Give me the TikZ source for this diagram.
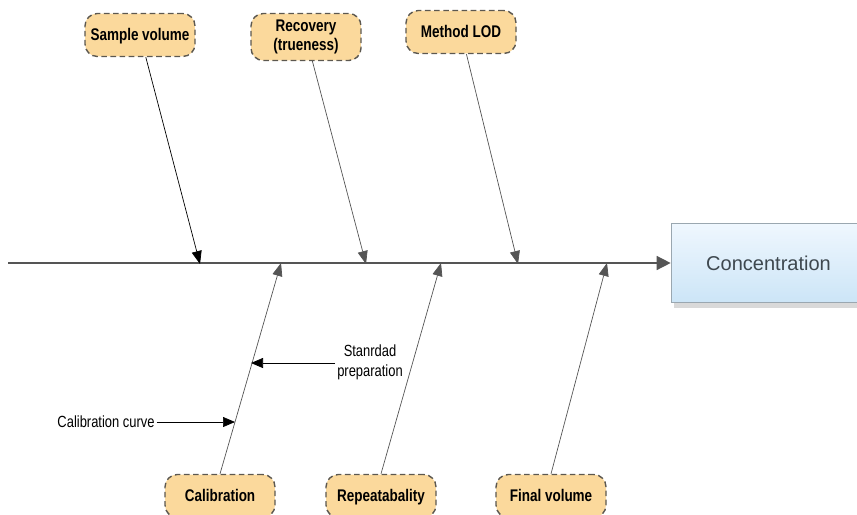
\documentclass[tikz,border=0pt]{standalone}
\usepackage{fontspec}
\setmainfont{Liberation Sans}
\newfontfamily\narrowfont[FakeStretch=0.8]{Liberation Sans}
\usetikzlibrary{arrows.meta,shadows}

\definecolor{causefill}{HTML}{FBD99C}
\definecolor{causeline}{HTML}{5C5850}
\definecolor{bonegray}{HTML}{555555}
\definecolor{effecttop}{HTML}{EFF7FE}
\definecolor{effectbottom}{HTML}{CCE5F7}
\definecolor{effectline}{HTML}{9AA7B0}
\definecolor{effecttext}{HTML}{3E484F}

\tikzset{
  cause/.style={draw=causeline, thick, dash pattern=on 3.2pt off 2pt,
    rounded corners=7pt, fill=causefill, align=center, inner sep=0pt,
    minimum width=2.2cm, minimum height=0.86cm,
    text height=1.6ex, text depth=0.45ex,
    font=\narrowfont\bfseries\fontsize{9.6}{11}\selectfont},
  effect/.style={draw=effectline, top color=effecttop, bottom color=effectbottom,
    minimum width=4.2cm, minimum height=1.58cm, text=effecttext,
    font=\fontsize{11.4}{14}\selectfont,
    drop shadow={shadow xshift=0.06cm, shadow yshift=-0.1cm, opacity=0.3}},
  bone/.style={draw=bonegray, -{Triangle[length=0.26cm,width=0.2cm]}},
  spine/.style={draw=bonegray, thick, -{Triangle[length=0.28cm,width=0.28cm]}},
  note/.style={font=\narrowfont\fontsize{9.2}{11.5}\selectfont, align=center, inner sep=1pt}
}

\begin{document}
\begin{tikzpicture}[x=0.02cm,y=-0.02cm]
  \useasboundingbox (0,0) rectangle (857,514);

  % effect box and spine
  \node[effect] (conc) at (776,263) {\hspace*{-0.3cm}Concentration};
  \coordinate (tail) at (8,263);
  \draw[spine] (tail) -- (conc.west);

  % causes above the spine
  \node[cause] (sample) at (140,35) {Sample volume};
  \node[cause, text height=, text depth=, minimum height=0.94cm,
    font=\narrowfont\bfseries\fontsize{9.6}{10.8}\selectfont]
    (recovery) at (306,37) {Recovery\\(trueness)};
  \node[cause] (lod) at (461,32) {Method LOD};

  \coordinate (t1) at (200,264);
  \coordinate (t2) at (366,264);
  \coordinate (t3) at (518,264);
  \draw[bone, draw=black] (sample) -- (t1);
  \draw[bone] (recovery) -- (t2);
  \draw[bone] (lod) -- (t3);

  % causes below the spine
  \node[cause] (calib) at (220,496) {Calibration};
  \node[cause] (repeat) at (381,496) {Repeatabality};
  \node[cause] (final) at (551,496) {Final volume};

  \coordinate (b1) at (281,263);
  \coordinate (b2) at (441,263);
  \coordinate (b3) at (607,263);
  \draw[bone] (calib.north) -- (b1);
  \draw[bone] (repeat.north) -- (b2);
  \draw[bone] (final.north) -- (b3);

  % sub-causes of calibration
  \node[note] (std) at (370,362) {Stanrdad\\preparation};
  \coordinate (std end) at (251,363);
  \draw[-{Triangle[length=0.24cm,width=0.2cm]}] (std.west |- std end) -- (std end);

  \node[note] (curve) at (106,422) {Calibration curve};
  \coordinate (curve end) at (235,422);
  \draw[-{Triangle[length=0.24cm,width=0.2cm]}] (curve) -- (curve end);
\end{tikzpicture}
\end{document}
